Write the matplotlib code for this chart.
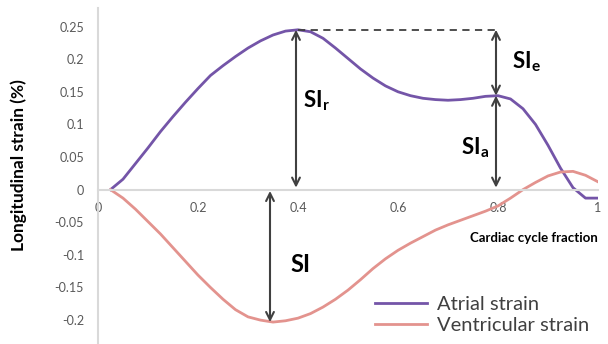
import matplotlib.pyplot as plt
import numpy as np

# cardiac cycle fraction and strain values
x = [0.025, 0.05, 0.075, 0.1, 0.125, 0.15, 0.175, 0.2, 0.225, 0.25, 0.275, 0.3,
     0.325, 0.35, 0.375, 0.4, 0.425, 0.45, 0.475, 0.5, 0.525, 0.55, 0.575, 0.6,
     0.625, 0.65, 0.675, 0.7, 0.725, 0.75, 0.775, 0.8, 0.825, 0.85, 0.875, 0.9,
     0.925, 0.95, 0.975, 1.0]
atrial = [0.0, 0.016, 0.040, 0.064, 0.089, 0.112, 0.134, 0.155, 0.175, 0.190, 0.204, 0.217,
          0.228, 0.237, 0.243, 0.245, 0.242, 0.232, 0.217, 0.201, 0.185, 0.171, 0.159, 0.150,
          0.144, 0.140, 0.138, 0.137, 0.138, 0.140, 0.143, 0.144, 0.139, 0.124, 0.100, 0.068,
          0.033, 0.003, -0.013, -0.013]
ventricular = [0.0, -0.013, -0.030, -0.049, -0.068, -0.089, -0.110, -0.131, -0.150, -0.168, -0.184, -0.195,
               -0.200, -0.203, -0.201, -0.197, -0.190, -0.180, -0.168, -0.154, -0.138, -0.121, -0.106, -0.093,
               -0.082, -0.072, -0.062, -0.054, -0.047, -0.040, -0.033, -0.025, -0.013, 0.0, 0.011, 0.021,
               0.027, 0.028, 0.022, 0.012]
xticks = [0, 0.2, 0.4, 0.6, 0.8, 1]
xticklabels = ['0', '0.2', '0.4', '0.6', '0.8', '1']
yticks = [-0.2, -0.15, -0.1, -0.05, 0, 0.05, 0.1, 0.15, 0.2, 0.25]
yticklabels = ['-0.2', '-0.15', '-0.1', '-0.05', '0', '0.05', '0.1', '0.15', '0.2', '0.25']

plt.rcParams['font.family'] = ['Lato', 'DejaVu Sans']
plt.rcParams['mathtext.fontset'] = 'custom'
plt.rcParams['mathtext.bf'] = 'Lato:bold'
plt.rcParams['mathtext.rm'] = 'Lato'

purple = '#7455a8'
salmon = '#e3938e'
grey = '#d9d9d9'
dark = '#404040'

fig = plt.figure(figsize=(6.08, 3.44), dpi=100)
ax = fig.add_axes([98 / 608, 0, 500 / 608, 336 / 344])

ax.plot(x, atrial, color=purple, lw=2, label='Atrial strain', solid_joinstyle='round')
ax.plot(x, ventricular, color=salmon, lw=2, label='Ventricular strain', solid_joinstyle='round')

ax.set_xlim(0, 1)
ax.set_ylim(-0.2366, 0.2784)

for s in ['top', 'right']:
    ax.spines[s].set_visible(False)
ax.spines['left'].set_color(grey)
ax.spines['left'].set_linewidth(1.5)
ax.spines['bottom'].set_position(('data', 0))
ax.spines['bottom'].set_color(grey)
ax.spines['bottom'].set_linewidth(1.5)

ax.set_xticks(xticks)
ax.set_xticklabels(xticklabels)
ax.set_yticks(yticks)
ax.set_yticklabels(yticklabels)
ax.tick_params(axis='x', length=0, pad=9, labelsize=9, labelcolor='#595959')
ax.tick_params(axis='y', length=0, pad=10, labelsize=9, labelcolor='#595959')

ax.set_ylabel('Longitudinal strain (%)', fontsize=12.5, fontweight='bold')
ax.yaxis.set_label_coords(-0.142, 0.533)
ax.text(1.0, -0.074, 'Cardiac cycle fraction', fontsize=9.5, fontweight='bold',
        ha='right', va='center')

# annotation positions derived from the data
a = np.array(atrial)
v = np.array(ventricular)
xs = np.array(x)
i_peak = a.argmax()
i_late = 31  # local atrial maximum near 0.8
i_min = v.argmin()
x_peak, y_peak = xs[i_peak], a[i_peak]
x_late, y_late = xs[i_late], a[i_late]

ax.plot([x_peak, x_late], [y_peak, y_peak], color=dark, lw=1.3, ls=(0, (4, 3)))

arrow = dict(arrowstyle='<->', color=dark, lw=1.5, shrinkA=0, shrinkB=0,
             mutation_scale=14)
ax.annotate('', xy=(x_peak - 0.004, 0.003), xytext=(x_peak - 0.004, y_peak), arrowprops=arrow)
ax.annotate('', xy=(x_late - 0.004, y_late), xytext=(x_late - 0.004, y_peak), arrowprops=arrow)
ax.annotate('', xy=(x_late - 0.004, 0.003), xytext=(x_late - 0.004, y_late), arrowprops=arrow)
ax.annotate('', xy=(xs[i_min] - 0.006, v[i_min]), xytext=(xs[i_min] - 0.006, -0.002), arrowprops=arrow)

ax.text(0.41, 0.137, r'$\mathbf{SI}_{\mathbf{r}}$', fontsize=16, va='center', ha='left')
ax.text(0.828, 0.196, r'$\mathbf{SI}_{\mathbf{e}}$', fontsize=16, va='center', ha='left')
ax.text(0.782, 0.064, r'$\mathbf{SI}_{\mathbf{a}}$', fontsize=16, va='center', ha='right')
ax.text(0.384, -0.116, r'$\mathbf{SI}$', fontsize=17, va='center', ha='left')

leg = ax.legend(loc='lower left', bbox_to_anchor=(375 / 608, 10 / 344),
                bbox_transform=fig.transFigure, frameon=False, fontsize=14.5,
                handlelength=2.6, handletextpad=0.5, labelspacing=0.2,
                borderaxespad=0, borderpad=0)
for t in leg.get_texts():
    t.set_color('#404040')

plt.savefig('out.png', dpi=100)
